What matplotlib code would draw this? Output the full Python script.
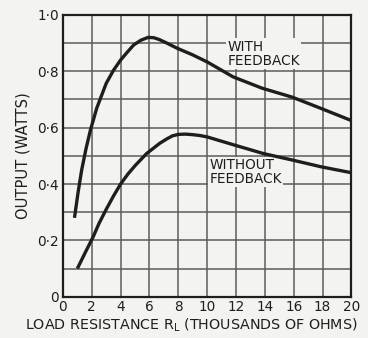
import matplotlib

matplotlib.use("Agg")

from matplotlib import pyplot as plt
from matplotlib.ticker import MultipleLocator

# load resistance (thousands of ohms) vs output (watts)
with_fb_r = [0.8, 1.05, 1.3, 1.6, 1.9, 2.35, 3.0, 3.5, 4.0, 4.5, 4.9, 5.4, 5.9, 6.3, 6.7, 7.2, 7.9,
             9.0, 10.0, 11.8, 13.8, 15.9, 17.9, 20.0]
with_fb_w = [0.28, 0.37, 0.45, 0.525, 0.59, 0.67, 0.757, 0.803, 0.84, 0.87, 0.893, 0.91, 0.92, 0.919, 0.912,
             0.90, 0.882, 0.858, 0.833, 0.78, 0.74, 0.708, 0.668, 0.625]

without_fb_r = [1.0, 1.5, 2.1, 2.5, 3.0, 3.5, 4.0, 4.5, 5.0, 5.8, 6.7, 7.2, 7.6, 8.0, 8.5, 9.0, 9.5, 10.0,
                11.9, 13.9, 15.9, 17.9, 20.0]
without_fb_w = [0.10, 0.152, 0.213, 0.26, 0.31, 0.357, 0.40, 0.435, 0.465, 0.508, 0.544, 0.56, 0.571, 0.576,
                0.577, 0.575, 0.572, 0.567, 0.538, 0.508, 0.485, 0.461, 0.44]

x_ticks = [0, 2, 4, 6, 8, 10, 12, 14, 16, 18, 20]
y_ticks = [0, 0.2, 0.4, 0.6, 0.8, 1.0]
y_tick_labels = ["0", "0·2", "0·4", "0·6", "0·8", "1·0"]

BG = "#f3f3f1"
INK = "#1e1e1e"

fig = plt.figure(figsize=(3.68, 3.38), dpi=100, facecolor=BG)
ax = fig.add_axes([0.171, 0.122, 0.784, 0.834], facecolor=BG)

ax.plot(with_fb_r, with_fb_w, color=INK, lw=2.4, solid_capstyle="butt", solid_joinstyle="round", zorder=3)
ax.plot(without_fb_r, without_fb_w, color=INK, lw=2.4, solid_capstyle="butt", solid_joinstyle="round", zorder=3)

ax.set_xlim(0, 20)
ax.set_ylim(0, 1.0)
ax.set_xticks(x_ticks)
ax.set_yticks(y_ticks, y_tick_labels)
ax.yaxis.set_minor_locator(MultipleLocator(0.1))
ax.grid(which="both", color="#5c5c5c", lw=1.1, zorder=1)
ax.tick_params(which="both", length=0, labelsize=9.8, colors=INK)
ax.tick_params(axis="x", pad=2)
ax.tick_params(axis="y", pad=3)
for side in ax.spines.values():
    side.set_color(INK)
    side.set_linewidth(1.6)

# x label sits left of the axes centre, running out under the y labels
fig.text(0.52, 0.038, "LOAD RESISTANCE R$_\\mathregular{L}$ (THOUSANDS OF OHMS)", fontsize=10.3,
         color=INK, ha="center", va="center")
ax.set_ylabel("OUTPUT (WATTS)", fontsize=10.6, color=INK, labelpad=5)

box = dict(facecolor=BG, edgecolor="none", pad=1.0)
ax.text(11.4, 0.912, "WITH\nFEEDBACK", fontsize=9.8, color=INK, va="top", ha="left",
        linespacing=1.0, bbox=box, zorder=2)
ax.text(10.15, 0.492, "WITHOUT\nFEEDBACK", fontsize=9.8, color=INK, va="top", ha="left",
        linespacing=1.0, bbox=box, zorder=2)

fig.savefig("out.png", dpi=100, facecolor=BG)
